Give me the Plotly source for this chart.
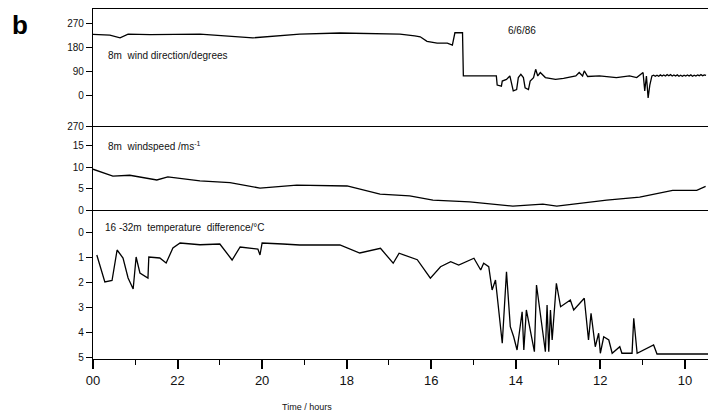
import plotly.graph_objects as go

# ---------------- data (time in hours, axis runs backwards from 00 = 24) ----------------
dir_hours = [24.0, 23.6, 23.36, 23.17, 22.65, 21.47, 20.22, 19.11, 18.16, 17.21,
             16.74, 16.39, 16.26, 16.10, 15.86, 15.62, 15.50, 15.44, 15.26, 15.24,
             14.46, 14.44, 14.34, 14.32, 14.22, 14.14, 14.10, 14.06, 13.98, 13.94,
             13.88, 13.82, 13.78, 13.70, 13.66, 13.58, 13.53, 13.48, 13.42, 13.30,
             13.06, 12.87, 12.58, 12.50, 12.42, 12.38, 12.30, 12.02, 11.62, 11.31,
             11.14, 10.99, 10.95, 10.91, 10.87, 10.83, 10.78, 10.74, 10.70, 10.66,
             10.62, 10.58, 10.54, 10.50, 10.46, 10.42, 10.38, 10.34, 10.30, 10.26,
             10.22, 10.18, 10.14, 10.10, 10.06, 10.02, 9.98, 9.94, 9.90, 9.86,
             9.82, 9.78, 9.74, 9.70, 9.66, 9.62, 9.58, 9.54, 9.50]
dir_values = [231, 228, 218, 232, 230, 232, 218, 232, 236, 233,
              232, 225, 222, 205, 198, 198, 191, 237, 237, 75,
              75, 41, 37, 56, 62, 75, 43, 19, 24, 69,
              81, 69, 31, 24, 56, 69, 100, 75, 88, 69,
              62, 66, 75, 88, 75, 94, 73, 75, 69, 75,
              69, 88, 19, 75, -7, 41, 75, 78, 74, 78,
              74, 79, 75, 79, 75, 80, 76, 80, 75, 79,
              75, 79, 74, 78, 74, 78, 75, 79, 75, 79,
              74, 78, 75, 79, 76, 80, 76, 79, 77]

speed_hours = [24.0, 23.53, 23.13, 22.49, 22.23, 21.47, 20.76, 20.05, 19.18, 17.99,
               17.21, 16.51, 15.96, 15.09, 14.07, 13.36, 13.03, 11.85, 11.07, 10.29,
               9.72, 9.51]
speed_values = [9.6, 8.0, 8.2, 7.1, 7.8, 6.9, 6.5, 5.2, 5.9, 5.7,
                3.8, 3.4, 2.4, 2.0, 1.0, 1.5, 1.0, 2.4, 3.1, 4.7,
                4.7, 5.6]

temp_hours = [23.91, 23.72, 23.55, 23.43, 23.29, 23.17, 23.05, 22.98, 22.89, 22.70,
              22.68, 22.42, 22.27, 22.11, 21.94, 21.47, 21.00, 20.71, 20.52, 20.10,
              20.05, 20.00, 19.51, 19.11, 18.16, 17.69, 17.20, 16.90, 16.76, 16.33,
              16.02, 15.78, 15.54, 15.35, 14.99, 14.83, 14.76, 14.64, 14.56, 14.48,
              14.32, 14.22, 14.13, 14.05, 13.97, 13.85, 13.81, 13.75, 13.56, 13.51,
              13.30, 13.26, 13.22, 13.18, 13.14, 13.04, 12.94, 12.71, 12.63, 12.38,
              12.28, 12.22, 12.12, 12.04, 12.00, 11.92, 11.80, 11.72, 11.54, 11.49,
              11.25, 11.21, 11.13, 10.74, 10.66, 9.44]
temp_values = [0.88, 1.96, 1.90, 0.68, 1.00, 1.80, 2.24, 0.96, 1.60, 1.80,
               0.96, 1.00, 1.20, 0.60, 0.40, 0.47, 0.44, 1.08, 0.56, 0.64,
               0.88, 0.40, 0.44, 0.48, 0.48, 0.80, 0.61, 1.21, 0.81, 1.07,
               1.81, 1.35, 1.15, 1.28, 1.01, 1.48, 1.21, 1.35, 2.28, 1.88,
               4.41, 1.55, 3.75, 4.15, 4.68, 3.15, 4.68, 3.08, 4.75, 2.08,
               4.75, 2.88, 4.75, 3.08, 4.28, 2.01, 2.95, 2.68, 3.08, 2.61,
               4.28, 3.21, 4.55, 4.01, 4.81, 4.15, 4.28, 4.81, 4.55, 4.81,
               4.81, 3.41, 4.81, 4.48, 4.84, 4.84]

x_tickvals = [24, 22, 20, 18, 16, 14, 12, 10]
x_ticktext = ["00", "22", "20", "18", "16", "14", "12", "10"]
minor_hours = [23, 21, 19, 17, 15, 13, 11]

dir_ticks = [270, 180, 90, 0]
speed_ticks = [15, 10, 5, 0]
temp_ticks = [0, 1, 2, 3, 4, 5]

# ---------------- figure ----------------
FONT = "Liberation Sans, Arial, sans-serif"
line = dict(color="black", width=1.3)

fig = go.Figure()
fig.add_trace(go.Scatter(x=dir_hours, y=dir_values, mode="lines", line=line,
                         xaxis="x", yaxis="y", showlegend=False))
fig.add_trace(go.Scatter(x=speed_hours, y=speed_values, mode="lines", line=line,
                         xaxis="x2", yaxis="y2", showlegend=False))
fig.add_trace(go.Scatter(x=temp_hours, y=temp_values, mode="lines", line=line,
                         xaxis="x3", yaxis="y3", showlegend=False))

xr = [24, 9.43]
d3 = [0, 0.4243]
d2 = [0.4243, 0.6657]
d1 = [0.6657, 1]

common_x = dict(range=xr, showgrid=False, zeroline=False, showline=True,
                linecolor="black", linewidth=1.3)
common_y = dict(showgrid=False, zeroline=False, showline=True, mirror=True,
                linecolor="black", linewidth=1.3, ticks="outside", ticklen=6,
                tickwidth=1.3, tickcolor="black",
                tickfont=dict(family=FONT, size=10, color="#111"))

dir_range = [-112.5, 326]
fig.update_layout(
    width=708, height=405,
    margin=dict(l=85, r=7, t=1, b=54),
    paper_bgcolor="white", plot_bgcolor="white",
    xaxis=dict(**common_x, anchor="y", mirror=True, showticklabels=False, ticks=""),
    xaxis2=dict(**common_x, anchor="y2", matches="x", showticklabels=False, ticks=""),
    xaxis3=dict(**common_x, anchor="y3", matches="x", tickvals=x_tickvals,
                ticktext=x_ticktext, ticks="outside", ticklen=9, tickwidth=1.5,
                tickcolor="black",
                tickfont=dict(family=FONT, size=13, color="#111"),
                minor=dict(tickvals=minor_hours, ticks="outside", ticklen=5,
                           tickwidth=1.3, tickcolor="black")),
    yaxis=dict(**common_y, domain=d1, anchor="x", range=dir_range,
               tickvals=dir_ticks + [dir_range[0]],
               ticktext=[str(v) for v in dir_ticks] + ["270"]),
    yaxis2=dict(**common_y, domain=d2, anchor="x2", range=[0, 19.65],
                tickvals=speed_ticks, ticktext=[str(v) for v in speed_ticks]),
    yaxis3=dict(**common_y, domain=d3, anchor="x3", range=[5.04, -0.9],
                tickvals=temp_ticks, ticktext=[str(v) for v in temp_ticks]),
)

ann_font = dict(family=FONT, size=10, color="#111")
fig.add_annotation(text="<b>b</b>", xref="paper", yref="paper", x=-0.135, y=0.954,
                   xanchor="left", yanchor="middle", showarrow=False,
                   font=dict(family=FONT, size=26, color="black"))
fig.add_annotation(text="8m  wind direction/degrees", xref="paper", yref="paper",
                   x=0.021, y=0.866, xanchor="left", yanchor="middle",
                   showarrow=False, font=ann_font)
fig.add_annotation(text="6/6/86", xref="paper", yref="paper", x=0.670, y=0.94,
                   xanchor="left", yanchor="middle", showarrow=False, font=ann_font)
fig.add_annotation(text="8m  windspeed /ms<sup>-1</sup>", xref="paper", yref="paper",
                   x=0.021, y=0.609, xanchor="left", yanchor="middle",
                   showarrow=False, font=ann_font)
fig.add_annotation(text="16 -32m  temperature  difference/°C", xref="paper",
                   yref="paper", x=0.016, y=0.377, xanchor="left", yanchor="middle",
                   showarrow=False, font=ann_font)
fig.add_annotation(text="Time / hours", xref="paper", yref="paper", x=0.347, y=-0.137,
                   xanchor="center", yanchor="middle", showarrow=False,
                   font=dict(family=FONT, size=9, color="#111"))

fig.write_html("out.html")
